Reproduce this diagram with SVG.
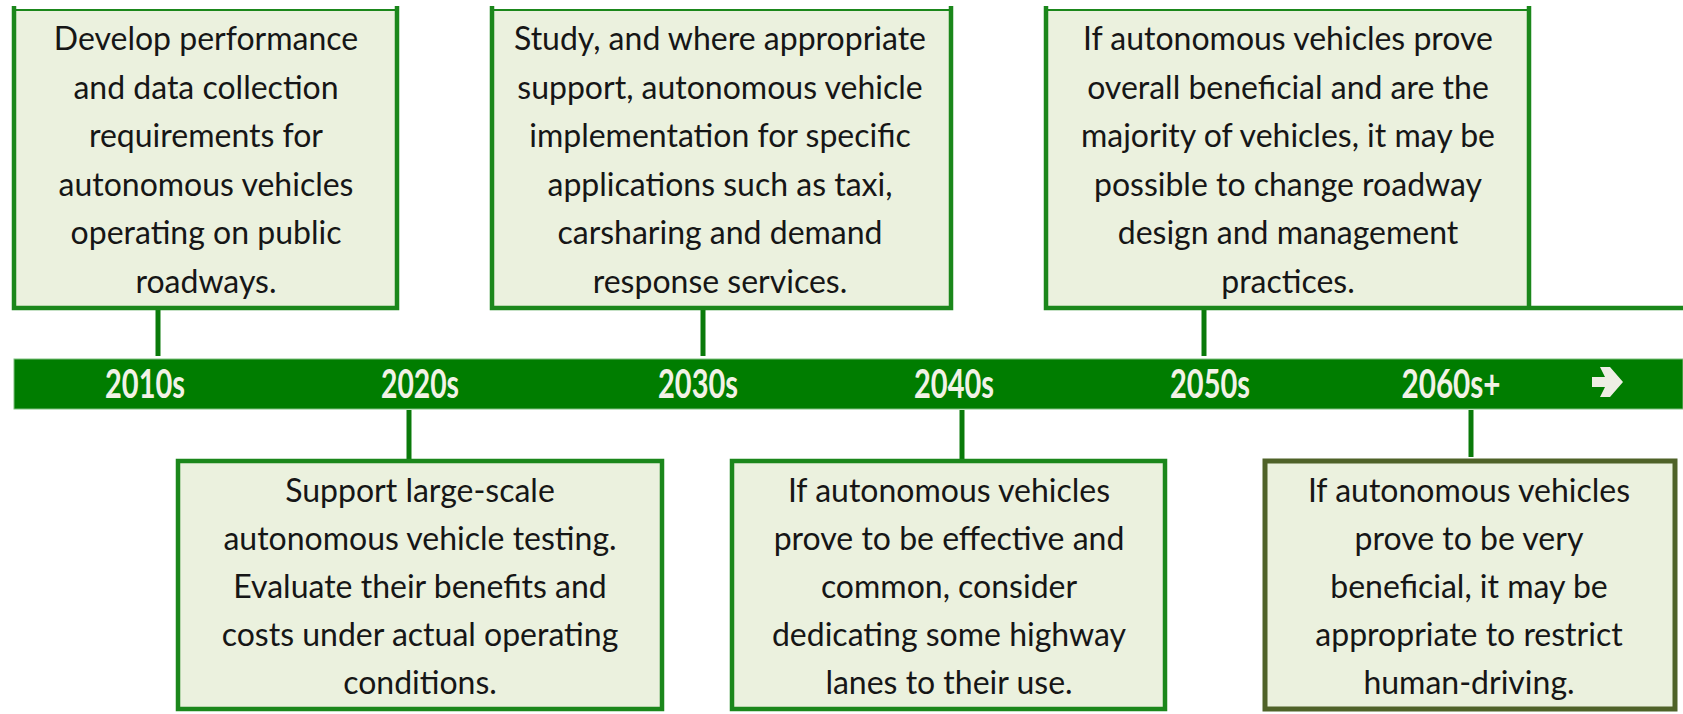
<svg xmlns="http://www.w3.org/2000/svg" width="1683" height="714" viewBox="0 0 1683 714">
<style>
.box{fill:#ebf1de;stroke:none}
.brd{fill:none;stroke:#1b871b;stroke-width:4.5}
.brdtop{fill:none;stroke:#1b871b;stroke-width:2}
.brd2{fill:none;stroke:#4f6228;stroke-width:5}
.con{stroke:#0a7a0a;stroke-width:5;fill:none}
.t{font-family:Lato,"Open Sans",sans-serif;font-size:32px;fill:#161616;text-anchor:middle}
.y{font-family:Lato,"Open Sans",sans-serif;font-size:40px;font-weight:bold;fill:#f2f2e6;text-anchor:middle}
</style>
<rect x="0" y="0" width="1683" height="714" fill="#ffffff"/>
<g id="timeline">
<rect x="14" y="359" width="1669" height="50" fill="#007d00" stroke="#7fbf7f" stroke-width="1"/>
<text class="y" x="145" y="398" textLength="80" lengthAdjust="spacingAndGlyphs">2010s</text>
<text class="y" x="420" y="398" textLength="78" lengthAdjust="spacingAndGlyphs">2020s</text>
<text class="y" x="698" y="398" textLength="80" lengthAdjust="spacingAndGlyphs">2030s</text>
<text class="y" x="954" y="398" textLength="80" lengthAdjust="spacingAndGlyphs">2040s</text>
<text class="y" x="1210" y="398" textLength="80" lengthAdjust="spacingAndGlyphs">2050s</text>
<text class="y" x="1451" y="398" textLength="99" lengthAdjust="spacingAndGlyphs">2060s+</text>
<polygon points="1592,377 1605,377 1600,367 1610,367 1623,382 1610,397 1600,397 1605,387 1592,387" fill="#eeeee4"/>
</g>
<g id="connectors">
<line class="con" x1="158" y1="309" x2="158" y2="356"/>
<line class="con" x1="703" y1="309" x2="703" y2="356"/>
<line class="con" x1="1204" y1="309" x2="1204" y2="356"/>
<line class="con" x1="409" y1="410" x2="409" y2="459"/>
<line class="con" x1="962" y1="410" x2="962" y2="459"/>
<line class="con" x1="1471" y1="410" x2="1471" y2="457"/>
</g>
<g id="node-2010s">
<rect class="box" x="14" y="10" width="383" height="298"/>
<path class="brd" d="M14,6 V308 H397 V6"/>
<line class="brdtop" x1="14" y1="10" x2="397" y2="10"/>
<text class="t"><tspan x="206" y="50">Develop performance</tspan><tspan x="206" y="98.5">and data collection</tspan><tspan x="206" y="147">requirements for</tspan><tspan x="206" y="195.5">autonomous vehicles</tspan><tspan x="206" y="244">operating on public</tspan><tspan x="206" y="292.5">roadways.</tspan></text>
</g>
<g id="node-2030s">
<rect class="box" x="492" y="10" width="459" height="298"/>
<path class="brd" d="M492,6 V308 H951 V6"/>
<line class="brdtop" x1="492" y1="10" x2="951" y2="10"/>
<text class="t"><tspan x="720" y="50">Study, and where appropriate</tspan><tspan x="720" y="98.5">support, autonomous vehicle</tspan><tspan x="720" y="147">implementation for specific</tspan><tspan x="720" y="195.5">applications such as taxi,</tspan><tspan x="720" y="244">carsharing and demand</tspan><tspan x="720" y="292.5">response services.</tspan></text>
</g>
<g id="node-2050s">
<rect class="box" x="1046" y="10" width="483" height="298"/>
<path class="brd" d="M1046,6 V308 H1683 M1529,308 V6"/>
<line class="brdtop" x1="1046" y1="10" x2="1529" y2="10"/>
<text class="t"><tspan x="1288" y="50">If autonomous vehicles prove</tspan><tspan x="1288" y="98.5">overall beneficial and are the</tspan><tspan x="1288" y="147">majority of vehicles, it may be</tspan><tspan x="1288" y="195.5">possible to change roadway</tspan><tspan x="1288" y="244">design and management</tspan><tspan x="1288" y="292.5">practices.</tspan></text>
</g>
<g id="node-2020s">
<rect class="box" x="178" y="461" width="484" height="248"/>
<rect class="brd" x="178" y="461" width="484" height="248"/>
<text class="t"><tspan x="420" y="502">Support large-scale</tspan><tspan x="420" y="550">autonomous vehicle testing.</tspan><tspan x="420" y="598">Evaluate their benefits and</tspan><tspan x="420" y="646">costs under actual operating</tspan><tspan x="420" y="694">conditions.</tspan></text>
</g>
<g id="node-2040s">
<rect class="box" x="732" y="461" width="433" height="248"/>
<rect class="brd" x="732" y="461" width="433" height="248"/>
<text class="t"><tspan x="949" y="502">If autonomous vehicles</tspan><tspan x="949" y="550">prove to be effective and</tspan><tspan x="949" y="598">common, consider</tspan><tspan x="949" y="646">dedicating some highway</tspan><tspan x="949" y="694">lanes to their use.</tspan></text>
</g>
<g id="node-2060s">
<rect class="box" x="1265" y="461" width="410" height="248"/>
<rect class="brd2" x="1265" y="461" width="410" height="248"/>
<text class="t"><tspan x="1469" y="502">If autonomous vehicles</tspan><tspan x="1469" y="550">prove to be very</tspan><tspan x="1469" y="598">beneficial, it may be</tspan><tspan x="1469" y="646">appropriate to restrict</tspan><tspan x="1469" y="694">human-driving.</tspan></text>
</g>
</svg>
